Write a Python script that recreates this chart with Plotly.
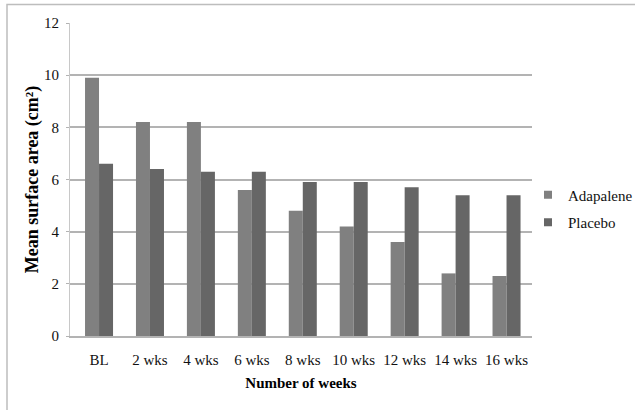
import plotly.graph_objects as go

# Study visits and mean lesion surface area per arm
weeks = ["BL", "2 wks", "4 wks", "6 wks", "8 wks", "10 wks", "12 wks", "14 wks", "16 wks"]
adapalene = [9.9, 8.2, 8.2, 5.6, 4.8, 4.2, 3.6, 2.4, 2.3]
placebo = [6.6, 6.4, 6.3, 6.3, 5.9, 5.9, 5.7, 5.4, 5.4]
y_ticks = [0, 2, 4, 6, 8, 10, 12]

W, H = 635, 410
ML, MR, MT, MB = 70, 103, 23, 74
PW, PH = W - ML - MR, H - MT - MB

def px_x(px):
    return (px - ML) / PW

def px_y(py):
    return (H - MB - py) / PH

FONT = "Liberation Serif"
TXT = "#111111"
C_ADA = "#808080"
C_PLA = "#666666"

fig = go.Figure()
fig.add_trace(go.Bar(x=weeks, y=adapalene, name="Adapalene",
                     marker=dict(color=C_ADA, line=dict(width=0)), showlegend=False))
fig.add_trace(go.Bar(x=weeks, y=placebo, name="Placebo",
                     marker=dict(color=C_PLA, line=dict(width=0)), showlegend=False))

# legend keys: small square swatches
for name, col, grp in [("Adapalene", C_ADA, "a"), ("Placebo", C_PLA, "p")]:
    fig.add_trace(go.Scatter(x=[None], y=[None], mode="markers", name=name,
                             marker=dict(symbol="square", size=8, color=col),
                             legendgroup=grp, showlegend=True))

fig.update_layout(
    width=W, height=H,
    margin=dict(l=ML, r=MR, t=MT, b=MB, pad=0, autoexpand=False),
    paper_bgcolor="white", plot_bgcolor="white",
    barmode="group", bargap=0.45, bargroupgap=0,
    font=dict(family=FONT, size=15, color=TXT),
    showlegend=True,
    legend=dict(x=px_x(528), xanchor="left", y=px_y(208.5), yanchor="middle",
                font=dict(family=FONT, size=15, color=TXT),
                tracegroupgap=5, itemwidth=30, bgcolor="rgba(0,0,0,0)"),
    xaxis=dict(
        range=[-0.57, 8.5],
        showgrid=False, showline=True, linecolor="#b3b3b3", linewidth=2,
        ticks="", tickfont=dict(family=FONT, size=15, color=TXT),
        ticklabelstandoff=9,
        title=dict(text="<b>Number of weeks</b>", font=dict(family=FONT, size=15, color="#000000"),
                   standoff=10),
    ),
    yaxis=dict(
        range=[0, 12], tickvals=y_ticks, showgrid=True, gridcolor="#b3b3b3", gridwidth=1.5,
        zeroline=False, showline=True, linecolor="#c8c8c8", linewidth=1,
        ticks="outside", ticklen=3, tickcolor="#b3b3b3",
        tickfont=dict(family=FONT, size=15, color=TXT),
        ticklabelstandoff=4,
        title=dict(text="<b>Mean surface area (cm²)</b>", font=dict(family=FONT, size=18, color="#000000"),
                   standoff=0),
    ),
    shapes=[dict(type="rect", xref="paper", yref="paper",
                 x0=px_x(7), x1=px_x(645), y0=px_y(420), y1=px_y(4.5),
                 line=dict(color="#bdbdbd", width=1.5), fillcolor="rgba(0,0,0,0)", layer="below")],
)

fig.write_html("out.html")
